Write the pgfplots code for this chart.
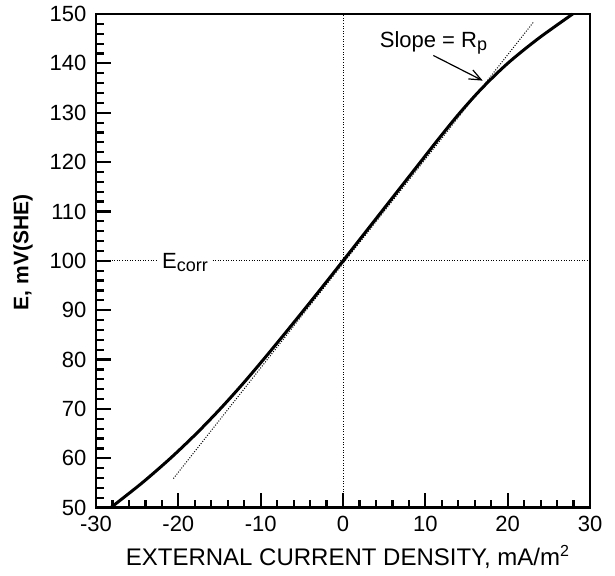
\documentclass[border=0pt]{standalone}
\usepackage{fontspec}
\setmainfont{Liberation Sans}
\usepackage{pgfplots}
\pgfplotsset{compat=1.18}
\usetikzlibrary{arrows.meta}
\begin{document}
\begin{tikzpicture}
\begin{axis}[
  scale only axis, width=247pt, height=246.85pt,
  xmin=-30, xmax=30, ymin=50, ymax=150,
  xtick={-30,-20,...,30}, ytick={50,60,...,150},
  minor x tick num=4, minor y tick num=4,
  xtick pos=bottom, ytick pos=left, tick align=inside,
  major tick length=7.5pt, minor tick length=4pt,
  every tick/.style={black, line width=1.1pt},
  axis line style={line width=1.3pt},
  /pgf/number format/assume math mode=true,
  ticklabel style={font=\fontsize{11}{13}\selectfont},
  xticklabel style={yshift=-0.5pt},
  yticklabel style={xshift=-1.3pt},
  xlabel={EXTERNAL CURRENT DENSITY, mA/m\textsuperscript{2}},
  ylabel={E, mV(SHE)},
  every axis x label/.style={at={(axis description cs:0.51,0)}, anchor=base, yshift=-28.9pt, font=\fontsize{12}{14}\selectfont},
  every axis y label/.style={at={(axis description cs:-0.148,0.517)}, anchor=center, rotate=90, font=\bfseries\fontsize{10.5}{12}\selectfont},
  clip=false,
]
% reference lines
\addplot[black, line width=0.5pt, dash pattern=on 0.5pt off 0.8pt] coordinates {(-30,100) (-22.47,100)};
\addplot[black, line width=0.5pt, dash pattern=on 0.5pt off 0.8pt] coordinates {(-15.83,100) (30,100)};
\addplot[black, line width=0.5pt, dash pattern=on 0.5pt off 0.8pt] coordinates {(0,50) (0,150)};
% tangent line (slope = Rp)
\addplot[black, line width=0.5pt, dash pattern=on 0.5pt off 0.8pt] coordinates {(-20.6,55.9) (23.2,148.5)};
% polarization curve
\addplot[black, line width=1.5pt, smooth, tension=0.5] coordinates {
(-28.22,50) (-24.42,55) (-20.97,60) (-17.82,65) (-14.92,70)
(-12.22,75) (-9.67,80) (-7.20,85) (-4.77,90) (-2.37,95)
(0,100) (2.35,105) (4.70,110) (7.05,115) (9.40,120)
(11.75,125) (14.20,130) (16.90,135) (20.00,140) (23.70,145) (27.90,150)
};
\node[anchor=base west, inner sep=0pt, font=\fontsize{11}{13}\selectfont] at (axis cs:-22.02,98.55) {E\textsubscript{\fontsize{9}{9}\selectfont corr}};
\node[anchor=base, inner sep=0pt, font=\fontsize{11}{13}\selectfont] at (axis cs:11.05,143.3) {Slope = R\textsubscript{\fontsize{9}{9}\selectfont p}};
\draw[-{Straight Barb[length=6pt,width=5pt]}, line width=0.6pt] (axis cs:10.97,141.6) -- (axis cs:16.97,136.5);
\end{axis}
\pgfresetboundingbox
\path[use as bounding box] ([shift={(-48pt,-33.65pt)}]current axis.south west) rectangle ([shift={(12.5pt,7pt)}]current axis.north east);
\end{tikzpicture}
\end{document}
